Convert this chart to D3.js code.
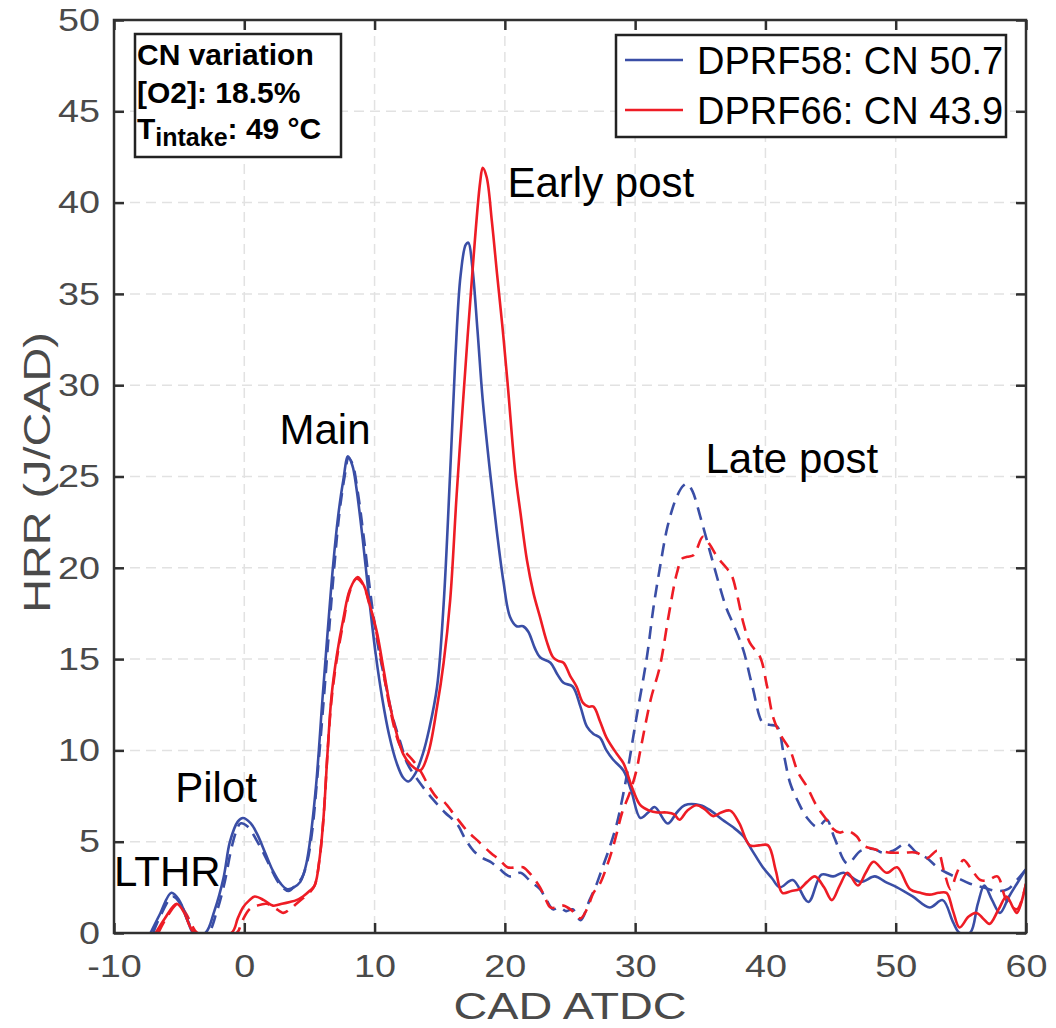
<!DOCTYPE html>
<html>
<head>
<meta charset="utf-8">
<script src="https://cdn.jsdelivr.net/npm/d3@7"></script>
<style>
  body { margin: 0; background: #fff; }
  svg { display: block; font-family: "Liberation Sans", Arial, sans-serif; }
</style>
</head>
<body>
<svg id="chart" width="1056" height="1028"></svg>
<script>
// HRR traces, [CAD ATDC, HRR J/CAD]
const dprf58Early = [[-7.2,0],[-6.5,1.0],[-5.6,2.2],[-5.0,1.8],[-4.4,0.8],[-3.9,0],[-3.0,0],[-2.3,1.2],[-1.6,3.0],[-1.1,5.0],[-0.5,6.1],[-0.1,6.3],[0.5,6.0],[1.0,5.4],[1.6,4.4],[2.2,3.4],[2.8,2.7],[3.3,2.4],[3.8,2.5],[4.3,2.8],[4.7,3.6],[5.0,4.8],[5.5,8.0],[6.0,12.8],[6.4,16.5],[6.8,20.0],[7.2,22.8],[7.6,24.8],[7.96,26.1],[8.3,25.6],[8.6,24.4],[9.1,21.5],[9.6,18.2],[10.1,15.2],[10.6,12.8],[11.1,10.9],[11.7,9.3],[12.2,8.5],[12.6,8.3],[13.1,8.7],[13.7,9.8],[14.2,11.2],[14.8,13.5],[15.3,18.0],[15.8,25.2],[16.2,31.5],[16.6,36.0],[17.0,37.7],[17.2,37.8],[17.5,36.5],[17.9,33.0],[18.3,29.2],[18.9,25.0],[19.4,21.9],[19.9,19.2],[20.4,17.3],[20.9,16.8],[21.4,16.8],[21.8,16.5],[22.3,15.6],[22.7,15.1],[23.5,14.8],[24.0,14.2],[24.5,13.7],[25.2,13.5],[25.8,12.4],[26.3,11.3],[26.8,10.9],[27.3,10.7],[27.8,10.0],[28.3,9.5],[29.1,8.9],[29.7,7.8],[30.4,6.3],[31.0,6.6],[31.5,6.9],[32.5,6.0],[33.2,6.6],[33.8,7.0],[35.0,7.0],[35.8,6.7],[36.7,6.2],[37.5,5.8],[38.3,5.3],[39.0,4.5],[39.8,3.6],[40.5,3.0],[41.1,2.5],[42.1,2.9],[43.3,1.7],[44.3,3.2],[45.2,3.1],[46.0,3.3],[47.3,2.8],[48.4,3.1],[49.2,2.8],[50.1,2.5],[51.3,2.0],[52.6,1.4],[53.6,1.8],[54.4,0.6],[54.9,0],[55.7,0],[56.3,1.6],[56.8,2.6],[57.4,1.8],[58.0,1.1],[58.7,2.0],[59.3,2.7],[60,3.5]];

const dprf58Late = [[-7.0,0],[-6.4,1.0],[-5.5,2.0],[-4.9,1.6],[-4.3,0.6],[-3.7,0],[-2.8,0],[-2.1,1.2],[-1.5,2.8],[-1.0,4.6],[-0.6,5.6],[-0.3,6.0],[0.3,5.8],[1.0,5.0],[1.6,4.2],[2.2,3.3],[2.8,2.6],[3.4,2.3],[3.9,2.6],[4.4,3.0],[4.8,3.8],[5.2,5.5],[5.6,8.5],[6.1,12.8],[6.5,16.5],[6.9,20.0],[7.3,23.0],[7.7,25.0],[8.0,26.0],[8.3,25.7],[8.7,24.2],[9.2,21.5],[9.7,18.5],[10.2,16.0],[10.8,13.8],[11.4,11.8],[12.0,10.4],[12.5,9.3],[13.5,8.2],[14.5,7.3],[15.4,6.6],[16.3,6.0],[17.0,5.1],[17.6,4.5],[18.3,4.1],[18.9,3.9],[19.6,3.5],[20.4,3.1],[21.2,3.3],[22.0,2.8],[22.7,2.4],[23.2,1.8],[23.7,1.3],[24.2,1.4],[24.7,1.2],[25.2,1.3],[25.8,0.7],[26.5,1.8],[27.0,2.6],[27.5,3.6],[28.0,4.6],[28.6,6.0],[29.0,7.3],[29.4,8.8],[30.1,11.8],[30.9,15.1],[31.4,17.8],[31.9,20.0],[32.5,22.3],[33.2,23.9],[33.7,24.5],[34.0,24.6],[34.4,24.2],[35.0,22.8],[35.7,21.0],[36.4,19.2],[37.0,17.8],[37.6,16.8],[38.3,15.5],[39.0,13.5],[39.8,11.5],[40.3,11.4],[40.9,11.3],[41.4,9.8],[41.9,8.2],[42.5,7.2],[43.2,6.3],[44.0,5.8],[44.7,6.2],[45.3,5.2],[46.3,3.8],[47.3,4.5],[48.3,4.6],[49.0,4.4],[49.8,4.5],[50.8,4.9],[51.6,4.4],[52.4,4.1],[53.2,3.6],[53.9,3.3],[54.8,3.0],[55.7,2.7],[56.7,2.5],[57.8,2.3],[58.6,2.4],[59.3,2.9],[60,3.5]];

const dprf66Early = [[-6.8,0],[-6.1,0.8],[-5.2,1.6],[-4.6,1.1],[-4.2,0.4],[-3.8,0],[-1.0,0],[-0.5,0.8],[-0.1,1.4],[0.4,1.8],[0.8,2.0],[1.5,1.8],[2.2,1.5],[2.9,1.6],[3.5,1.7],[4.0,1.8],[4.5,2.0],[5.0,2.3],[5.4,2.6],[5.8,4.2],[6.1,6.5],[6.4,10.0],[6.7,13.0],[7.1,15.2],[7.6,17.2],[8.1,18.8],[8.7,19.5],[9.2,19.0],[9.7,17.8],[10.2,16.4],[10.7,14.4],[11.2,12.4],[11.7,10.9],[12.2,9.8],[12.8,9.2],[13.5,8.9],[14.1,9.8],[14.8,12.4],[15.3,14.8],[15.8,18.2],[16.3,24.0],[16.8,29.2],[17.5,36.1],[18.1,41.1],[18.3,41.9],[18.6,41.4],[19.0,39.0],[19.4,36.1],[19.8,33.3],[20.2,30.2],[20.8,25.2],[21.2,23.0],[21.7,20.4],[22.2,18.6],[22.7,17.3],[23.2,16.0],[23.7,15.1],[24.1,14.9],[24.5,14.8],[25.0,14.1],[25.5,13.5],[26.0,12.6],[26.4,12.4],[26.8,12.4],[27.3,11.6],[27.8,10.7],[28.6,9.8],[29.1,9.3],[29.8,7.9],[30.4,7.0],[31.1,6.7],[31.7,6.6],[32.4,6.6],[33.0,6.5],[33.4,6.2],[34.0,6.7],[34.7,7.0],[35.3,6.8],[36.0,6.4],[36.6,6.6],[37.3,6.7],[38.0,6.0],[38.8,4.8],[39.5,4.8],[40.2,4.8],[40.8,3.4],[41.3,2.2],[42.0,2.3],[42.6,2.4],[43.2,2.8],[43.8,3.1],[44.5,2.5],[45.1,1.8],[45.7,2.6],[46.3,3.3],[47.1,2.6],[47.7,3.3],[48.3,3.9],[49.3,3.3],[50.1,3.6],[51.1,2.4],[51.9,2.2],[52.6,2.1],[53.3,2.2],[53.9,2.2],[54.4,1.2],[54.9,0.3],[55.6,0.9],[56.2,1.1],[56.7,0.8],[57.2,0.5],[57.9,1.3],[58.5,2.0],[59.0,1.4],[59.3,1.1],[60,2.7]];

const dprf66Late = [[-6.6,0],[-6.0,0.8],[-5.1,1.6],[-4.5,1.1],[-4.0,0.4],[-3.6,0],[-0.6,0],[-0.2,0.6],[0.4,1.3],[1.0,1.5],[1.7,1.6],[2.3,1.4],[3.0,1.1],[3.5,1.3],[4.0,1.6],[4.5,1.9],[5.0,2.2],[5.4,2.6],[5.8,4.2],[6.1,6.5],[6.4,10.0],[6.7,12.8],[7.1,15.0],[7.6,17.0],[8.1,18.7],[8.6,19.4],[9.1,19.1],[9.6,18.0],[10.1,16.6],[10.6,14.6],[11.1,12.6],[11.6,11.0],[12.0,10.2],[12.5,9.8],[13.0,9.4],[13.5,8.9],[14.2,8.0],[14.8,7.4],[15.3,7.2],[16.2,6.4],[17.1,5.6],[18.0,5.0],[18.9,4.4],[19.6,4.0],[20.2,3.6],[21.0,3.6],[21.4,3.6],[22.0,3.2],[22.7,2.5],[23.1,1.9],[23.5,1.4],[24.0,1.4],[24.5,1.5],[25.2,1.2],[25.8,0.8],[26.3,1.3],[26.8,2.2],[27.3,2.7],[27.8,3.6],[28.3,4.7],[28.6,5.5],[29.0,6.6],[29.6,7.7],[30.1,8.9],[30.4,10.0],[31.2,12.8],[31.9,14.6],[32.6,17.5],[33.2,19.7],[33.6,20.5],[34.0,20.6],[34.5,20.7],[35.2,21.7],[35.7,21.3],[36.3,20.6],[37.0,20.0],[37.4,19.6],[37.8,18.6],[38.3,17.0],[38.8,15.9],[39.6,15.1],[40.1,13.6],[40.6,11.8],[41.2,10.8],[41.9,10.0],[42.5,8.8],[43.2,8.0],[43.9,7.0],[44.7,6.2],[45.2,5.7],[45.7,5.5],[46.3,5.6],[47.0,5.3],[47.5,4.8],[48.3,4.6],[48.8,4.5],[49.6,4.4],[50.6,4.4],[51.6,4.4],[52.4,4.1],[53.2,4.5],[53.7,3.4],[54.2,2.4],[54.7,3.3],[55.2,4.0],[55.8,3.5],[56.5,2.9],[57.1,2.9],[57.8,3.1],[58.5,1.8],[59.3,1.3],[60,2.7]];

const xTicks = [-10, 0, 10, 20, 30, 40, 50, 60];
const yTicks = [0, 5, 10, 15, 20, 25, 30, 35, 40, 45, 50];
const legendLabels = ['DPRF58: CN 50.7', 'DPRF66: CN 43.9'];
const peakLabels = [
  { text: 'LTHR', x: -10, y: 2.6 },
  { text: 'Pilot', x: -5.3, y: 7.2 },
  { text: 'Main', x: 2.7, y: 26.8 },
  { text: 'Early post', x: 20.2, y: 40.3 },
  { text: 'Late post', x: 35.4, y: 25.2 }
];

const width = 1056, height = 1028;
const margin = { top: 20, right: 30, bottom: 95, left: 114 };
const innerW = width - margin.left - margin.right;
const innerH = height - margin.top - margin.bottom;

const blue = '#3a4ea6';
const red = '#ee1c25';
const axisColor = '#303030';
const labelColor = '#4a4a4a';

// the original axis text is set a little wider than Arial
const widen = (sel, k) => sel.each(function () {
  const w = this.getComputedTextLength();
  d3.select(this).attr('textLength', w * k).attr('lengthAdjust', 'spacingAndGlyphs');
});

const svg = d3.select('#chart');
const g = svg.append('g').attr('transform', `translate(${margin.left},${margin.top})`);

const x = d3.scaleLinear().domain([-10, 60]).range([0, innerW]);
const y = d3.scaleLinear().domain([0, 50]).range([innerH, 0]);

// grid
g.append('g').selectAll('line').data(xTicks.slice(1, -1)).join('line')
  .attr('x1', d => x(d)).attr('x2', d => x(d)).attr('y1', 0).attr('y2', innerH)
  .attr('stroke', '#e2e2e2').attr('stroke-width', 1.5).attr('stroke-dasharray', '10,6');
g.append('g').selectAll('line').data(yTicks.slice(1, -1)).join('line')
  .attr('y1', d => y(d)).attr('y2', d => y(d)).attr('x1', 0).attr('x2', innerW)
  .attr('stroke', '#e2e2e2').attr('stroke-width', 1.5).attr('stroke-dasharray', '10,6');

// curves
g.append('clipPath').attr('id', 'plotClip')
  .append('rect').attr('width', innerW).attr('height', innerH);

const line = d3.line().x(d => x(d[0])).y(d => y(d[1])).curve(d3.curveCatmullRom.alpha(0.5));

const series = [
  { data: dprf58Late, color: blue, dash: '13,8' },
  { data: dprf66Late, color: red, dash: '13,8' },
  { data: dprf58Early, color: blue, dash: null },
  { data: dprf66Early, color: red, dash: null }
];

const curves = g.append('g').attr('clip-path', 'url(#plotClip)');
series.forEach(s => {
  curves.append('path')
    .datum(s.data)
    .attr('d', line)
    .attr('fill', 'none')
    .attr('stroke', s.color)
    .attr('stroke-width', 2.6)
    .attr('stroke-dasharray', s.dash);
});

// axes, ticks pointing inwards on all four sides
const styleAxis = sel => {
  sel.select('.domain').remove();
  sel.selectAll('.tick line').attr('stroke', axisColor).attr('stroke-width', 2.5);
  sel.selectAll('.tick text').attr('fill', labelColor).style('font-size', '32px').call(widen, 1.18);
};

g.append('g').attr('transform', `translate(0,${innerH})`)
  .call(d3.axisBottom(x).tickValues(xTicks).tickSize(-10).tickPadding(21).tickFormat(d => String(d)))
  .call(styleAxis);
g.append('g')
  .call(d3.axisLeft(y).tickValues(yTicks).tickSize(-10).tickPadding(14).tickFormat(d => String(d)))
  .call(styleAxis);
g.append('g')
  .call(d3.axisTop(x).tickValues(xTicks).tickSize(-10).tickFormat(''))
  .call(styleAxis);
g.append('g').attr('transform', `translate(${innerW},0)`)
  .call(d3.axisRight(y).tickValues(yTicks).tickSize(-10).tickFormat(''))
  .call(styleAxis);

g.append('rect')
  .attr('width', innerW).attr('height', innerH)
  .attr('fill', 'none').attr('stroke', axisColor).attr('stroke-width', 2.5);

// axis titles
svg.append('text')
  .attr('x', margin.left + innerW / 2).attr('y', 1019)
  .attr('text-anchor', 'middle').attr('fill', labelColor)
  .style('font-size', '36px')
  .text('CAD ATDC')
  .call(widen, 1.3);
svg.append('text')
  .attr('transform', `translate(50,${margin.top + innerH / 2 - 4}) rotate(-90)`)
  .attr('text-anchor', 'middle').attr('fill', labelColor)
  .style('font-size', '36px')
  .text('HRR (J/CAD)')
  .call(widen, 1.3);

// peak annotations
g.append('g').selectAll('text').data(peakLabels).join('text')
  .attr('x', d => x(d.x)).attr('y', d => y(d.y))
  .attr('fill', '#000')
  .style('font-size', '42px')
  .text(d => d.text);

// info box
const info = g.append('g').attr('transform', 'translate(21,14)');
info.append('rect').attr('width', 206).attr('height', 123)
  .attr('fill', '#fff').attr('stroke', '#222').attr('stroke-width', 2.5);
const infoText = info.append('text').attr('fill', '#000')
  .style('font-size', '30px').style('font-weight', 'bold');
infoText.append('tspan').attr('x', 2).attr('y', 31).text('CN variation');
infoText.append('tspan').attr('x', 2).attr('y', 69).text('[O2]: 18.5%');
const t3 = info.append('text').attr('x', 2).attr('y', 105).attr('fill', '#000')
  .style('font-size', '30px').style('font-weight', 'bold');
t3.append('tspan').text('T');
t3.append('tspan').attr('dy', 7).style('font-size', '25px').text('intake');
t3.append('tspan').attr('dy', -7).text(': 49 °C');

// legend
const legend = g.append('g').attr('transform', `translate(${innerW - 410},15)`);
legend.append('rect').attr('width', 390).attr('height', 102)
  .attr('fill', '#fff').attr('stroke', '#222').attr('stroke-width', 2.5);
legend.selectAll('g.item').data(legendLabels).join('g')
  .attr('class', 'item')
  .attr('transform', (d, i) => `translate(0,${25 + i * 50})`)
  .each(function (d, i) {
    const it = d3.select(this);
    it.append('line').attr('x1', 9).attr('x2', 67).attr('y1', 0).attr('y2', 0)
      .attr('stroke', i === 0 ? blue : red).attr('stroke-width', 2.6);
    it.append('text').attr('x', 81).attr('y', 14).attr('fill', '#000')
      .style('font-size', '38px').text(d);
  });
</script>
</body>
</html>
